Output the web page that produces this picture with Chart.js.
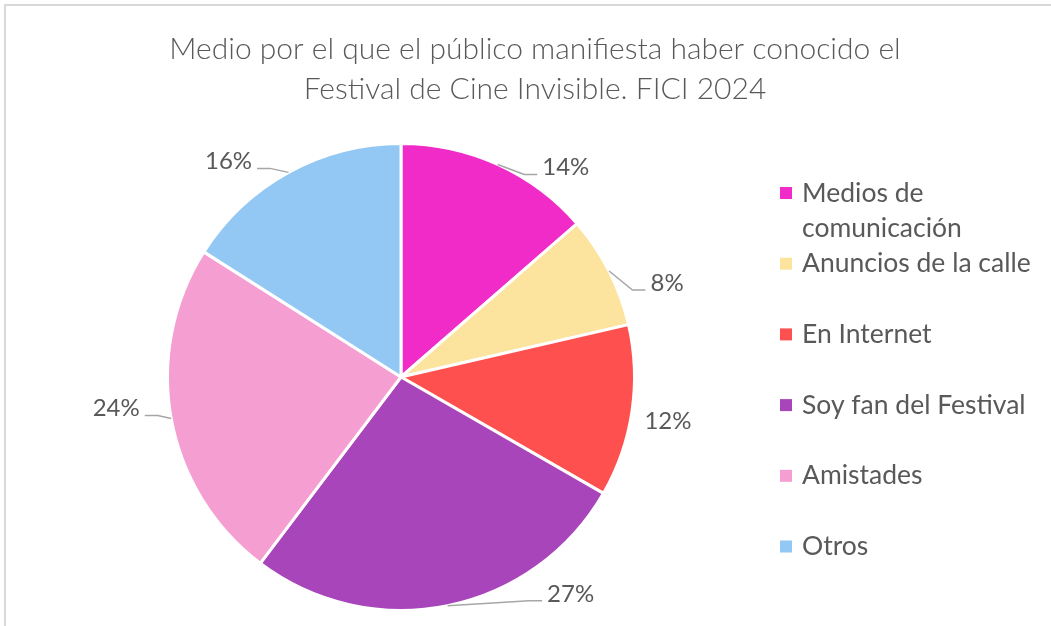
<!DOCTYPE html>
<html>
<head>
<meta charset="utf-8">
<script src="https://cdn.jsdelivr.net/npm/chart.js@4.4.1/dist/chart.umd.min.js"></script>
<style>
  html, body { margin: 0; padding: 0; background: #fff; }
  #wrap { width: 1051px; height: 626px; position: relative; }
</style>
</head>
<body>
<div id="wrap"><canvas id="pie" width="1051" height="626"></canvas></div>
<script>
// --- data ---
const categories = ['Medios de comunicación', 'Anuncios de la calle', 'En Internet', 'Soy fan del Festival', 'Amistades', 'Otros'];
const shares = [13.6, 7.8, 11.9, 27.0, 23.7, 16.0];
const sliceColors = ['#F12BC7', '#FCE39E', '#FF5050', '#A845BA', '#F59ED2', '#92C8F3'];
const titleLines = ['Medio por el que el público manifiesta haber conocido el', 'Festival de Cine Invisible. FICI 2024'];

const TEXT = '#595959';
const FONT = 'Lato, "Noto Sans", sans-serif';

// where each % label sits relative to the slice edge (Excel "best fit" look)
const labelNudge = [[68, 3], [58, 12], [36, 10], [123, -12], [-55, -10], [-60, -11]];

const decorPlugin = {
  id: 'decor',
  beforeDraw(chart) {
    const { ctx, width, height } = chart;
    ctx.save();
    ctx.fillStyle = '#d9d9d9';
    ctx.fillRect(4, 4, width, 2);   // frame, top
    ctx.fillRect(4, 4, 2, height);  // frame, left
    ctx.restore();
  },
  afterDraw(chart) {
    const { ctx } = chart;
    const meta = chart.getDatasetMeta(0);
    const total = shares.reduce((a, b) => a + b, 0);
    ctx.save();

    // title
    ctx.fillStyle = TEXT;
    ctx.textAlign = 'center';
    ctx.textBaseline = 'middle';
    ctx.font = '300 30px ' + FONT;
    titleLines.forEach((t, i) => ctx.fillText(t, 535, 49 + i * 40));

    // legend
    ctx.font = '26.5px ' + FONT;
    ctx.textAlign = 'left';
    const lx = 780, maxW = 1040 - 802;
    categories.forEach((name, i) => {
      const y = 193 + i * 70.7;
      ctx.fillStyle = sliceColors[i];
      ctx.fillRect(lx, y - 6, 12, 12);
      ctx.fillStyle = TEXT;
      // simple word wrap
      const lines = [];
      let cur = '';
      name.split(' ').forEach(w => {
        const test = cur ? cur + ' ' + w : w;
        if (ctx.measureText(test).width > maxW && cur) { lines.push(cur); cur = w; }
        else cur = test;
      });
      lines.push(cur);
      lines.forEach((ln, j) => ctx.fillText(ln, 802, y + j * 35.5));
    });

    // percentage labels with leader lines
    ctx.font = '24px ' + FONT;
    ctx.strokeStyle = '#a6a6a6';
    ctx.lineWidth = 1.5;
    meta.data.forEach((arc, i) => {
      const mid = (arc.startAngle + arc.endAngle) / 2;
      const ex = arc.x + Math.cos(mid) * arc.outerRadius;
      const ey = arc.y + Math.sin(mid) * arc.outerRadius;
      const [dx, dy] = labelNudge[i];
      const tx = ex + dx, ty = ey + dy;
      const txt = Math.round(shares[i] / total * 100) + '%';
      const tw = ctx.measureText(txt).width;
      const right = dx > 0;
      const edgeX = right ? tx - tw / 2 - 5 : tx + tw / 2 + 5;
      if (Math.abs(edgeX - ex) > 20) {
        const elbowX = right ? edgeX - 13 : edgeX + 13;
        ctx.beginPath();
        ctx.moveTo(ex, ey);
        ctx.lineTo(elbowX, ty + 7);
        ctx.lineTo(edgeX, ty + 7);
        ctx.stroke();
      }
      ctx.fillStyle = TEXT;
      ctx.textAlign = 'center';
      ctx.fillText(txt, tx, ty);
    });
    ctx.restore();
  }
};

new Chart(document.getElementById('pie'), {
  type: 'pie',
  data: {
    labels: categories,
    datasets: [{
      data: shares,
      backgroundColor: sliceColors,
      borderColor: '#ffffff',
      borderWidth: 3
    }]
  },
  options: {
    responsive: false,
    animation: false,
    layout: { padding: { left: 166, right: 415, top: 142, bottom: 14 } },
    plugins: {
      legend: { display: false },
      title: { display: false },
      tooltip: { enabled: false }
    }
  },
  plugins: [decorPlugin]
});
</script>
</body>
</html>
